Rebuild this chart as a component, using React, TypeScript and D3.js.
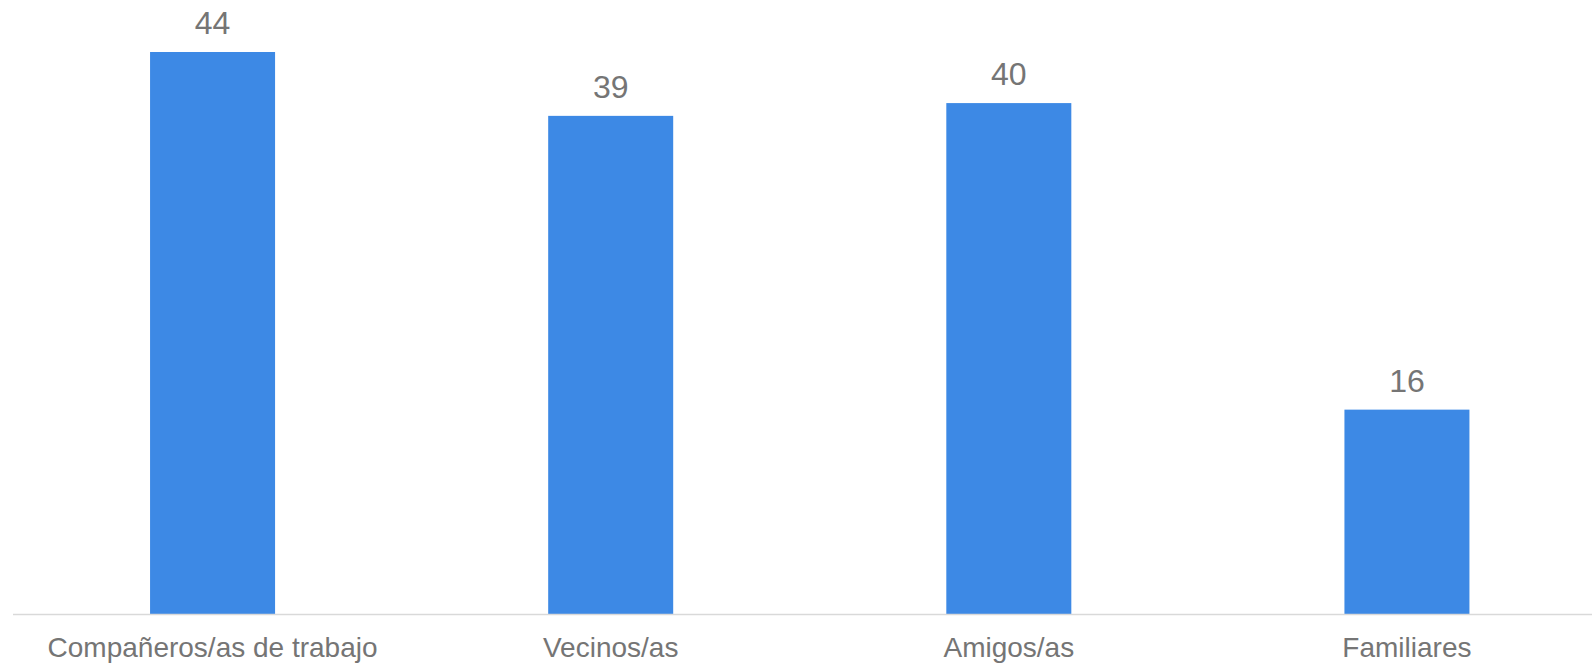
import { useEffect, useRef } from "react";
import * as d3 from "d3";

const WIDTH = 1592;
const HEIGHT = 665;
const BASELINE = 614;
const TOP_Y = 52; // top of the tallest bar

const categories = [
  "Compañeros/as de trabajo",
  "Vecinos/as",
  "Amigos/as",
  "Familiares",
];
const values = [44, 39, 40, 16];

const BAR_COLOR = "#3d89e5";
const TEXT_COLOR = "#757575";
const AXIS_COLOR = "#d9d9d9";
const FONT = "'Liberation Sans', Arial, sans-serif";

const App = () => {
  const svgRef = useRef<SVGSVGElement | null>(null);

  useEffect(() => {
    const svg = d3.select(svgRef.current);
    svg.selectAll("*").remove();

    // the plot area runs past the right edge, same as the reference
    const xScale = d3
      .scaleBand<string>()
      .domain(categories)
      .range([13.5, 1606])
      .paddingInner(0.686)
      .paddingOuter(0.343);

    const yScale = d3
      .scaleLinear()
      .domain([0, d3.max(values)!])
      .range([BASELINE, TOP_Y]);

    const data = categories.map((c, i) => ({ cat: c, value: values[i] }));

    svg
      .append("g")
      .selectAll("rect")
      .data(data)
      .join("rect")
      .attr("x", (d) => xScale(d.cat)!)
      .attr("y", (d) => yScale(d.value))
      .attr("width", xScale.bandwidth())
      .attr("height", (d) => BASELINE - yScale(d.value))
      .attr("fill", BAR_COLOR);

    // baseline
    svg
      .append("line")
      .attr("x1", 13)
      .attr("x2", WIDTH)
      .attr("y1", BASELINE + 0.5)
      .attr("y2", BASELINE + 0.5)
      .attr("stroke", AXIS_COLOR)
      .attr("stroke-width", 1.5);

    // value labels
    svg
      .append("g")
      .selectAll("text")
      .data(data)
      .join("text")
      .attr("x", (d) => xScale(d.cat)! + xScale.bandwidth() / 2)
      .attr("y", (d) => yScale(d.value) - 18)
      .attr("text-anchor", "middle")
      .style("font-family", FONT)
      .style("font-size", "32px")
      .attr("fill", TEXT_COLOR)
      .text((d) => d.value);

    // category labels
    svg
      .append("g")
      .selectAll("text")
      .data(data)
      .join("text")
      .attr("x", (d) => xScale(d.cat)! + xScale.bandwidth() / 2)
      .attr("y", BASELINE + 43)
      .attr("text-anchor", "middle")
      .style("font-family", FONT)
      .style("font-size", "28px")
      .attr("fill", TEXT_COLOR)
      .text((d) => d.cat);
  }, []);

  return (
    <svg
      ref={svgRef}
      width={WIDTH}
      height={HEIGHT}
      style={{ position: "absolute", left: 0, top: 0, background: "#fff" }}
    />
  );
};

export default App;
